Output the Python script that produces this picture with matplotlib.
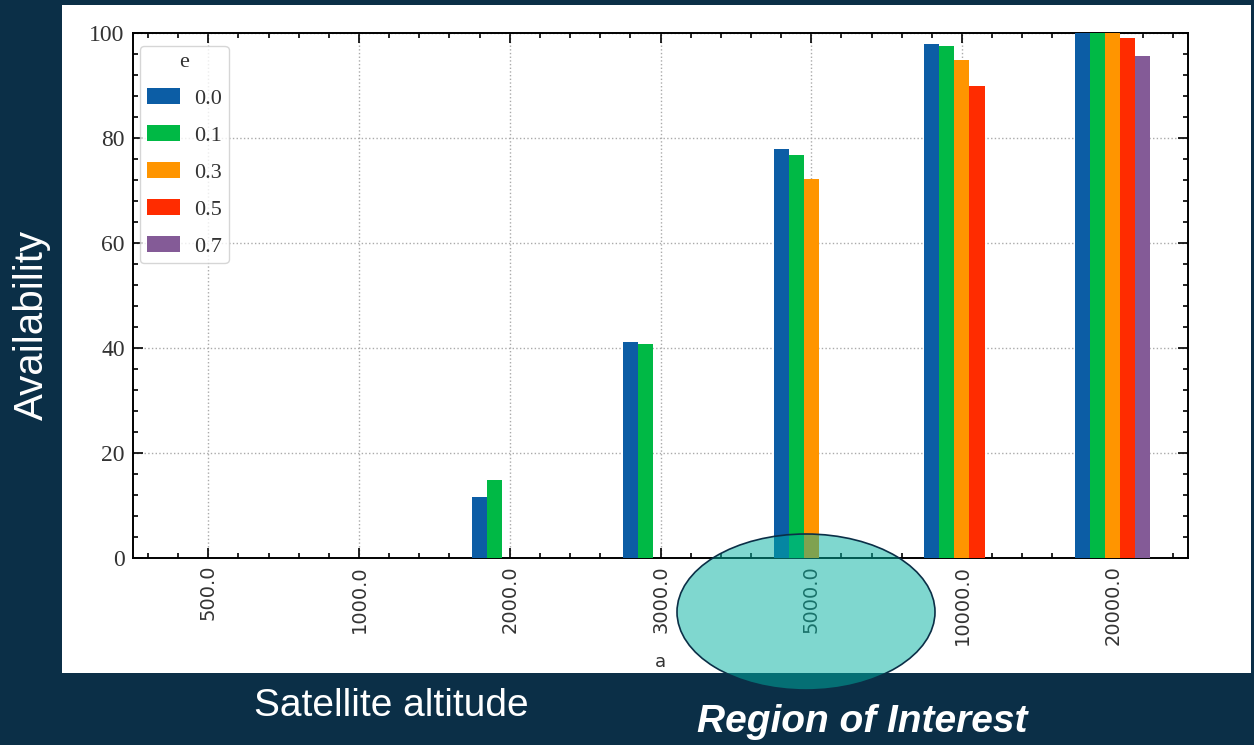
import matplotlib.pyplot as plt
import numpy as np
from matplotlib.patches import Ellipse, Rectangle
from matplotlib.ticker import AutoMinorLocator, MultipleLocator

# datos
altitudes = ["500.0", "1000.0", "2000.0", "3000.0", "5000.0", "10000.0", "20000.0"]
e_labels = ["0.0", "0.1", "0.3", "0.5", "0.7"]
e00 = [0, 0, 11.6, 41.1, 77.9, 97.9, 100.0]
e01 = [0, 0, 14.9, 40.8, 76.8, 97.6, 100.0]
e03 = [0, 0, 0, 0, 72.1, 94.8, 100.0]
e05 = [0, 0, 0, 0, 0, 89.9, 99.1]
e07 = [0, 0, 0, 0, 0, 0, 95.7]
series = [e00, e01, e03, e05, e07]
colors = ["#0C5DA5", "#00B945", "#FF9500", "#FF2C00", "#845B97"]

W, H = 1254, 745
navy = "#0b2f47"
fig = plt.figure(figsize=(W / 100, H / 100), dpi=100, facecolor=navy)

# panel blanco
fig.add_artist(Rectangle((62 / W, 1 - 673 / H), (1251 - 62) / W, (673 - 5) / H,
                         transform=fig.transFigure, facecolor="white", edgecolor="none", zorder=0))

ax = fig.add_axes([133 / W, 1 - 558 / H, (1188 - 133) / W, (558 - 33) / H])
ax.set_facecolor("white")

x = np.arange(len(altitudes))
bw = 0.1
for i, (vals, c, lab) in enumerate(zip(series, colors, e_labels)):
    ax.bar(x + (i - 2) * bw, vals, width=bw, color=c, label=lab, zorder=3)

ax.set_xlim(-0.5, len(altitudes) - 0.5)
ax.set_ylim(0, 100)
ax.set_xticks(x)
ax.set_xticklabels(altitudes, rotation=90, fontsize=14, color="#333333",
                   family="DejaVu Sans")
ax.yaxis.set_major_locator(MultipleLocator(20))
ax.yaxis.set_minor_locator(AutoMinorLocator(5))
ax.xaxis.set_minor_locator(AutoMinorLocator(5))
for lab in ax.get_yticklabels():
    lab.set_family("Liberation Serif")
    lab.set_fontsize(17)
    lab.set_color("#333333")

ax.tick_params(which="both", direction="in", top=True, right=True, width=1.2)
ax.tick_params(which="major", length=7, pad=6)
ax.tick_params(axis="x", which="major", pad=5)
ax.tick_params(which="minor", length=3.5)
for s in ax.spines.values():
    s.set_linewidth(1.4)

ax.grid(True, which="major", linestyle=":", color="#aaaaaa", linewidth=1, zorder=0)
ax.set_axisbelow(True)
ax.set_xlabel("a", fontsize=13, color="#333333", labelpad=6)

leg = ax.legend(title="e", loc="upper left", prop={"family": "Liberation Serif", "size": 16},
                title_fontproperties={"family": "Liberation Serif", "size": 16},
                handlelength=1.5, handleheight=0.77, labelspacing=0.72,
                handletextpad=0.63, borderpad=0.3, frameon=True, fancybox=True,
                bbox_to_anchor=(7 / 1055, 1 - 13 / 525), borderaxespad=0)
leg.get_frame().set_edgecolor("#cccccc")
for t in leg.get_texts():
    t.set_color("#333333")
leg.get_title().set_color("#333333")

# textos externos
fig.text(32 / W, 1 - 325 / H, "Availability", rotation=90, color="white",
         fontsize=29, family="Liberation Sans", ha="center", va="center")
fig.text(391 / W, 1 - 706 / H, "Satellite altitude", color="white",
         fontsize=28, family="Liberation Sans", ha="center", va="center")
fig.text(862 / W, 1 - 722 / H, "Region of Interest", color="white",
         fontsize=28, family="Liberation Sans", weight="bold", style="italic",
         ha="center", va="center")

# elipse de la region de interes
fig.add_artist(Ellipse((806 / W, 1 - 612 / H), 258 / W, 156 / H, transform=fig.transFigure,
                       facecolor=(0.0, 0.69, 0.63, 0.5), edgecolor=navy, linewidth=1.2, zorder=10))

fig.savefig("out.png", dpi=100, facecolor=navy)
